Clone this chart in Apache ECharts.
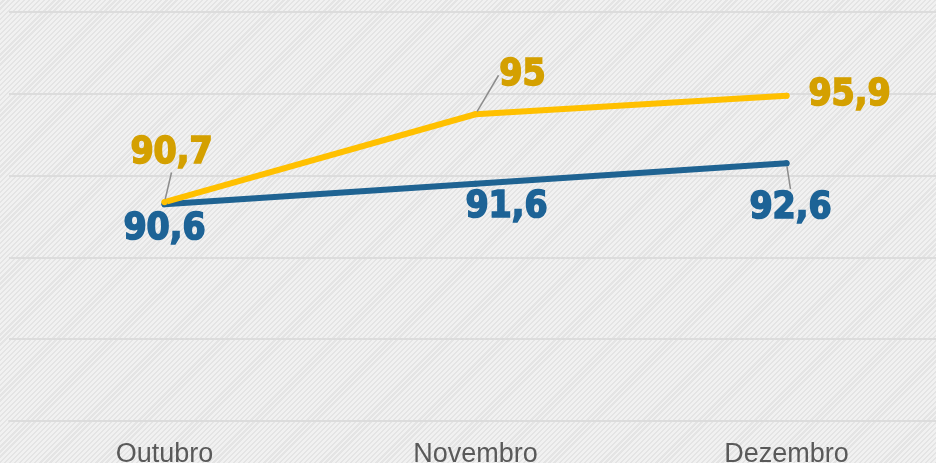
<!DOCTYPE html>
<html style="height: 100%">
<head>
    <meta charset="utf-8">
</head>
<body style="height: 100%; margin: 0">
    <div id="container" style="height: 100%; background: repeating-linear-gradient(135deg, #f1f1f1 0px, #f1f1f1 2px, #e4e4e4 2px, #e4e4e4 3.6px)"></div>
    <script src="https://cdn.jsdelivr.net/npm/echarts@6/dist/echarts.min.js"></script>
    <script type="text/javascript">
        var meses = ['Outubro', 'Novembro', 'Dezembro'];
        var serieAzul = [90.6, 91.6, 92.6];
        var serieAmarela = [90.7, 95, 95.9];
        // deslocamento dos rotulos em relacao ao ponto
        var desvioAzul = [[0, 25], [31, 24], [4, 45]];
        var desvioAmarelo = [[7, -49], [47, -39], [63, 0]];
        var guiaAzul = [false, false, true];
        var guiaAmarelo = [true, true, false];

        var dom = document.getElementById('container');
        var myChart = echarts.init(dom, null, { renderer: 'canvas' });

        function fmt(p) {
            return String(p.value).replace('.', ',');
        }
        function itens(vals, guias) {
            return vals.map(function (v, i) {
                return { value: v, labelLine: { show: guias[i] } };
            });
        }
        function serie(vals, guias, desvios, cor, corRotulo) {
            return {
                type: 'line',
                data: itens(vals, guias),
                symbol: 'circle',
                showSymbol: true,
                symbolSize: 6,
                lineStyle: { color: cor, width: 6, cap: 'round', join: 'round' },
                itemStyle: { color: cor },
                label: {
                    show: true,
                    position: 'inside',
                    formatter: fmt,
                    color: corRotulo,
                    textBorderColor: corRotulo,
                    textBorderWidth: 1.6,
                    fontFamily: 'DejaVu Sans Condensed',
                    fontWeight: 'bold',
                    fontSize: 37
                },
                labelLine: { lineStyle: { color: '#8c8c8c', width: 1.5 } },
                labelLayout: function (p) {
                    return { dx: desvios[p.dataIndex][0], dy: desvios[p.dataIndex][1] };
                },
                animation: false
            };
        }

        var option = {
            grid: { left: 9, top: 12, width: 933, height: 409, outerBoundsMode: 'none' },
            xAxis: {
                type: 'category',
                data: meses,
                axisLine: { show: true, lineStyle: { color: '#dcdcdc', width: 2 } },
                axisTick: { show: false },
                axisLabel: { color: '#595959', fontSize: 27, fontFamily: 'Liberation Sans', margin: 20 }
            },
            yAxis: {
                type: 'value',
                min: 80,
                max: 100,
                interval: 4,
                axisLabel: { show: false },
                axisLine: { show: false },
                axisTick: { show: false },
                splitLine: { lineStyle: { color: '#dcdcdc', width: 2 } }
            },
            series: [
                serie(serieAzul, guiaAzul, desvioAzul, '#1f6392', '#1d6396'),
                serie(serieAmarela, guiaAmarelo, desvioAmarelo, '#ffc000', '#d4a000')
            ]
        };
        myChart.setOption(option);
    </script>
</body>
</html>
